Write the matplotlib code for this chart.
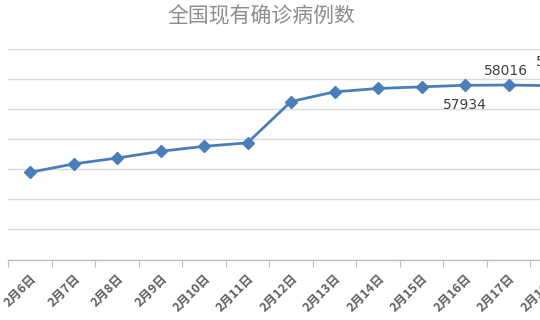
import matplotlib
matplotlib.use("Agg")
import matplotlib.pyplot as plt

plt.rcParams['font.family'] = ['Noto Sans CJK SC', 'DejaVu Sans']

dates = ["2月6日", "2月7日", "2月8日", "2月9日", "2月10日", "2月11日", "2月12日",
         "2月13日", "2月14日", "2月15日", "2月16日", "2月17日", "2月18日"]
cases = [28985, 31774, 33738, 35982, 37626, 38800, 52526,
         55748, 56873, 57416, 57934, 58016, 57805]
yticks = [0, 10000, 20000, 30000, 40000, 50000, 60000, 70000]

W, H = 540, 320
fig = plt.figure(figsize=(W / 100, H / 100), dpi=100)
left_px, right_px = 8.25, 8.25 + 13 * 43.5
top_px, bot_px = 49, 259.5
ax = fig.add_axes([left_px / W, (H - bot_px) / H, (right_px - left_px) / W, (bot_px - top_px) / H])

x = list(range(len(dates)))
ax.plot(x, cases, color='#4a7ebb', lw=2.0, marker='D', ms=6, mec='#4a7ebb', mfc='#4a7ebb', zorder=3)

ax.set_xlim(-0.5, len(dates) - 0.5)
ax.set_ylim(0, 70000)
ax.set_yticks(yticks)
ax.yaxis.grid(True, color='#d9d9d9', lw=1.0)
ax.set_axisbelow(True)
ax.tick_params(axis='y', left=False, labelleft=False)

ax.set_xticks([i - 0.5 for i in range(len(dates) + 1)], minor=False)
ax.set_xticklabels([])
ax.set_xticks(x, minor=True)
ax.set_xticklabels(dates, minor=True, rotation=45, ha='right', va='top',
                   rotation_mode='anchor', fontsize=9, color='#606060', fontweight='bold')
ax.tick_params(axis='x', which='major', length=5, color='#bfbfbf', direction='out')
ax.tick_params(axis='x', which='minor', length=0, pad=9)

for s in ['top', 'right', 'left']:
    ax.spines[s].set_visible(False)
ax.spines['bottom'].set_color('#bfbfbf')
ax.spines['bottom'].set_linewidth(1.0)

# data labels
ax.annotate(str(cases[10]), (10, cases[10]), xytext=(0, -14), textcoords='offset points',
            ha='center', va='center', fontsize=10, color='#404040', family='DejaVu Sans')
ax.annotate(str(cases[11]), (11, cases[11]), xytext=(-2, 10), textcoords='offset points',
            ha='center', va='center', fontsize=10, color='#404040', family='DejaVu Sans')
ax.annotate(str(cases[12]), (12, cases[12]), xytext=(4, 17), textcoords='offset points',
            ha='center', va='center', fontsize=10, color='#404040', family='DejaVu Sans',
            annotation_clip=False)

fig.text(261 / W, 1 - 16 / H, "全国现有确诊病例数", ha='center', va='center',
         fontsize=15, color='#8c8c8c')

fig.savefig("out.png", dpi=100)
